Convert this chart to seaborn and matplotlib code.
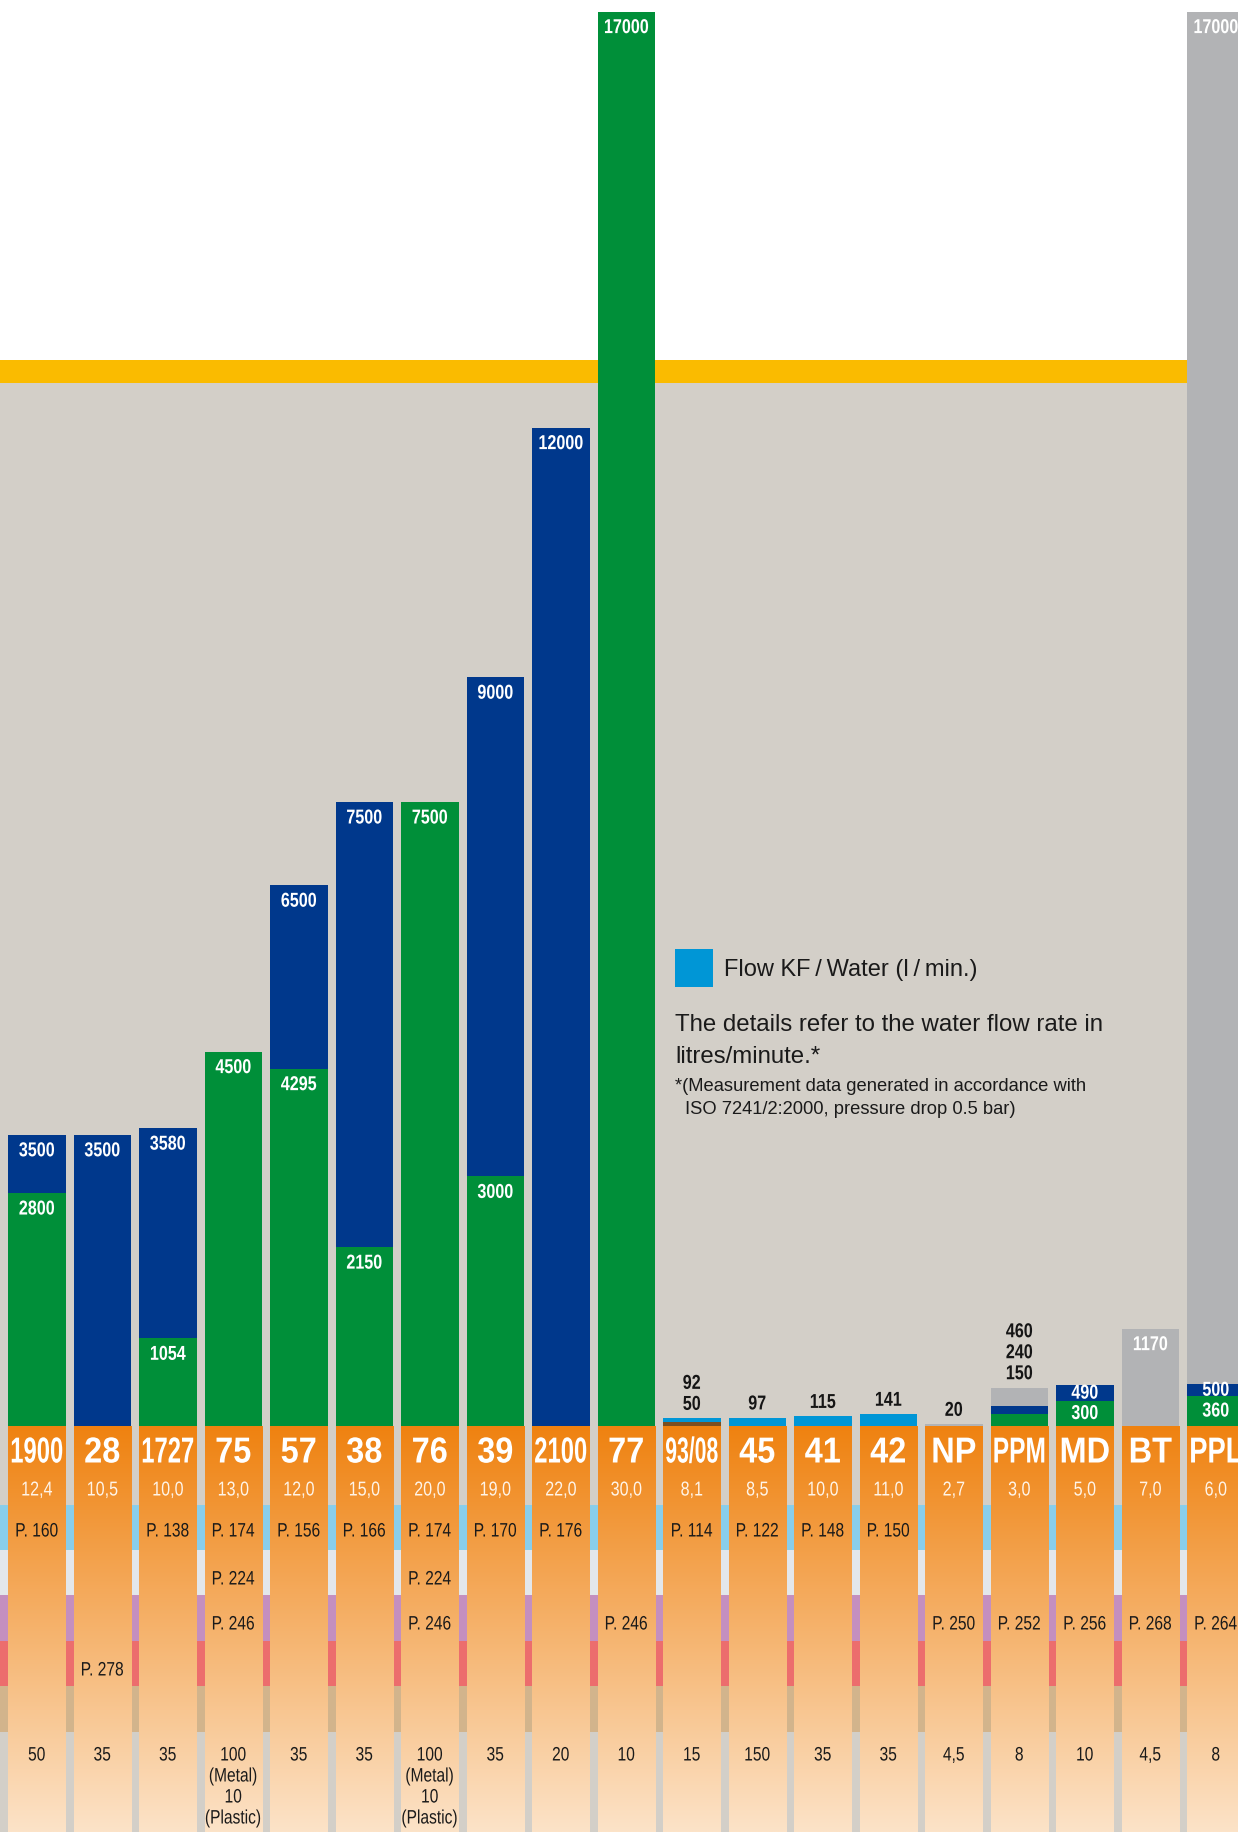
import numpy as np
import pandas as pd
import matplotlib
matplotlib.use("Agg")
import matplotlib.pyplot as plt
from matplotlib.patches import Rectangle
from matplotlib.colors import to_rgb
from matplotlib.patheffects import AbstractPathEffect
from matplotlib.transforms import Affine2D
from matplotlib import font_manager
import seaborn as sns

nan = np.nan

# ---------------------------------------------------------------- data
models = ["1900", "28", "1727", "75", "57", "38", "76", "39", "2100", "77",
          "93/08", "45", "41", "42", "NP", "PPM", "MD", "BT", "PPL"]

flow_gray  = [nan, nan, nan, nan, nan, nan, nan, nan, nan, nan,
              nan, nan, nan, nan, 20, 460, nan, 1170, 17000]
flow_navy  = [3500, 3500, 3580, nan, 6500, 7500, nan, 9000, 12000, nan,
              nan, nan, nan, nan, nan, 240, 490, nan, 500]
flow_sky   = [nan, nan, nan, nan, nan, nan, nan, nan, nan, nan,
              92, 97, 115, 141, nan, nan, nan, nan, nan]
flow_green = [2800, nan, 1054, 4500, 4295, 2150, 7500, 3000, nan, 17000,
              nan, nan, nan, nan, nan, 150, 300, nan, 360]
flow_brown = [nan, nan, nan, nan, nan, nan, nan, nan, nan, nan,
              50, nan, nan, nan, nan, nan, nan, nan, nan]

size_values = ["12,4", "10,5", "10,0", "13,0", "12,0", "15,0", "20,0", "19,0",
               "22,0", "30,0", "8,1", "8,5", "10,0", "11,0", "2,7", "3,0",
               "5,0", "7,0", "6,0"]
pages_a = ["P. 160", "", "P. 138", "P. 174", "P. 156", "P. 166", "P. 174",
           "P. 170", "P. 176", "", "P. 114", "P. 122", "P. 148", "P. 150",
           "", "", "", "", ""]
pages_b = ["", "", "", "P. 224", "", "", "P. 224", "", "", "", "", "", "",
           "", "", "", "", "", ""]
pages_c = ["", "", "", "P. 246", "", "", "P. 246", "", "", "P. 246", "", "",
           "", "", "P. 250", "P. 252", "P. 256", "P. 268", "P. 264"]
pages_d = ["", "P. 278", "", "", "", "", "", "", "", "", "", "", "", "", "",
           "", "", "", ""]
pack_units = ["50", "35", "35", "100\n(Metal)\n10\n(Plastic)", "35", "35",
              "100\n(Metal)\n10\n(Plastic)", "35", "20", "10", "15", "150",
              "35", "35", "4,5", "8", "10", "4,5", "8"]

# columns whose flow figures are printed above the bar
labels_above = ["93/08", "45", "41", "42", "NP", "PPM"]

# ---------------------------------------------------------------- style
series_order = ["gray", "navy", "sky", "green", "brown"]
palette = {"gray": "#B2B3B5", "navy": "#00388C", "sky": "#0096D6",
           "green": "#008F39", "brown": "#7B4F20"}
BEIGE = "#D3CFC8"
YELLOW = "#FABB00"
STRIPES = [(0, 79, BEIGE), (79, 124, "#89CEEB"), (124, 169, "#E3E7EB"),
           (169, 215, "#C48FBF"), (215, 260, "#EC6D6D"), (260, 306, "#D2B48C"),
           (306, 406, BEIGE)]
GRAD_TOP = "#EF8210"
GRAD_BOTTOM = "#FCE3C8"

sns.set_theme(style="white")
SANS = ["Liberation Sans", "DejaVu Sans"]
plt.rcParams["font.family"] = SANS

installed = {f.name for f in font_manager.fontManager.ttflist}
if "Liberation Sans Narrow" in installed:
    NARROW, NARROW_SX = ["Liberation Sans Narrow"] + SANS, 1.0
else:
    NARROW, NARROW_SX = SANS, 0.8


class HSqueeze(AbstractPathEffect):
    """Draw a text's glyphs compressed horizontally about its centre."""

    def __init__(self, text, sx):
        super().__init__()
        self.text = text
        self.sx = sx

    def draw_path(self, renderer, gc, tpath, affine, rgbFace=None):
        bb = self.text.get_window_extent(renderer)
        cx = 0.5 * (bb.x0 + bb.x1)
        squeeze = Affine2D().translate(-cx, 0).scale(self.sx, 1).translate(cx, 0)
        renderer.draw_path(gc, tpath, affine + squeeze, rgbFace)


def narrow(t, sx=None):
    s = NARROW_SX if sx is None else sx
    if s < 0.999:
        t.set_path_effects([HSqueeze(t, s)])
    return t


FIG_W, FIG_H, DPI = 1238, 1833, 100
BASE_PX = 1427            # bar baseline / top of the table strip
PX_PER_UNIT = 0.0832      # vertical scale of the flow bars
PITCH, BAR_PX, FIRST_LEFT = 65.5, 57.5, 8.0
BAR_WIDTH = BAR_PX / PITCH
PT = 72.0 / DPI           # pixels -> points

fig = plt.figure(figsize=(FIG_W / DPI, FIG_H / DPI), dpi=DPI, facecolor="white")
ax = fig.add_axes([0, 1 - BASE_PX / FIG_H, 1, BASE_PX / FIG_H])
tab = fig.add_axes([0, 0, 1, 1 - BASE_PX / FIG_H])

x_lo = -(FIRST_LEFT + BAR_PX / 2) / PITCH
x_hi = x_lo + FIG_W / PITCH
y_top = BASE_PX / PX_PER_UNIT

# ---------------------------------------------------------------- bars
frames = []
for name, vals in zip(series_order,
                      [flow_gray, flow_navy, flow_sky, flow_green, flow_brown]):
    frames.append(pd.DataFrame({"model": models, "flow": vals, "series": name}))
df = pd.concat(frames, ignore_index=True).dropna()

ax.axhspan(0, (BASE_PX - 384) / PX_PER_UNIT, color=BEIGE, zorder=0, lw=0)
ax.axhspan((BASE_PX - 384) / PX_PER_UNIT, (BASE_PX - 361) / PX_PER_UNIT,
           color=YELLOW, zorder=0, lw=0)

sns.barplot(data=df, x="model", y="flow", hue="series", order=models,
            hue_order=series_order, palette=palette, dodge=False,
            width=BAR_WIDTH, errorbar=None, saturation=1, legend=False,
            linewidth=0, ax=ax)
for p in ax.patches:
    p.set_zorder(2)

ax.set_xlim(x_lo, x_hi)
ax.set_ylim(0, y_top)
ax.axis("off")

# value labels
LABEL_PT = 14.5
for i, m in enumerate(models):
    vals = sorted({v for v in (flow_gray[i], flow_navy[i], flow_sky[i],
                               flow_green[i], flow_brown[i]) if not np.isnan(v)},
                  reverse=True)
    if m in labels_above:
        top = vals[0]
        for k, v in enumerate(sorted(vals)):
            narrow(ax.annotate(f"{int(v)}", xy=(i, top),
                               xytext=(0, (14 + 21 * k) * PT),
                               textcoords="offset points", ha="center",
                               va="center", fontsize=LABEL_PT, fontweight="bold",
                               family=NARROW, color="#151515", zorder=5))
    else:
        for k, v in enumerate(vals):
            lower = vals[k + 1] if k + 1 < len(vals) else 0
            visible_px = (v - lower) * PX_PER_UNIT
            off = min(16, visible_px / 2)
            narrow(ax.annotate(f"{int(v)}", xy=(i, v), xytext=(0, -off * PT),
                               textcoords="offset points", ha="center",
                               va="center", fontsize=LABEL_PT, fontweight="bold",
                               family=NARROW, color="white", zorder=5))

# ---------------------------------------------------------------- table strip
tab.axis("off")
for y0, y1, c in STRIPES:
    tab.axhspan(y0, y1, color=c, lw=0, zorder=0)

c0, c1 = np.array(to_rgb(GRAD_TOP)), np.array(to_rgb(GRAD_BOTTOM))
t = np.linspace(0, 1, 256)[:, None]
grad = (c0 * (1 - t) + c1 * t)[:, None, :]
for i in range(len(models)):
    tab.imshow(grad, extent=(i - BAR_WIDTH / 2, i + BAR_WIDTH / 2, 406, 0),
               aspect="auto", interpolation="bilinear", zorder=1)
tab.set_xlim(x_lo, x_hi)
tab.set_ylim(406, 0)

headers = []
for i, m in enumerate(models):
    headers.append(tab.text(i, 27, m, ha="center", va="center", fontsize=26,
                            fontweight="bold", family=NARROW, color="white",
                            zorder=3))
    narrow(tab.text(i, 64, size_values[i], ha="center", va="center",
                    fontsize=14.5, family=NARROW, color="#FFF4E8", zorder=3))
    for y, row in ((106, pages_a), (154, pages_b), (199, pages_c), (245, pages_d)):
        if row[i]:
            narrow(tab.text(i, y, row[i], ha="center", va="center", fontsize=14,
                            family=NARROW, color="#1A1A1A", zorder=3))
    for k, line in enumerate(pack_units[i].split("\n")):
        narrow(tab.text(i, 330 + 21 * k, line, ha="center", va="center",
                        fontsize=14, family=NARROW, color="#1A1A1A", zorder=3))

# compress the model names so that each fits its column
renderer = fig.canvas.get_renderer()
for h in headers:
    w = h.get_window_extent(renderer).width
    sx = min(0.9 if NARROW_SX < 1 else 1.0, 53.0 / w)
    narrow(h, sx)

# ---------------------------------------------------------------- legend / notes
def fx(x):
    return x / FIG_W


def fy(y):
    return 1 - y / FIG_H


fig.add_artist(Rectangle((fx(675), fy(988)), fx(713) - fx(675), fy(950) - fy(988),
                         transform=fig.transFigure, color="#0096D6", lw=0))
fig.text(fx(724), fy(970), "Flow KF\u2009/\u2009Water (l\u2009/\u2009min.)",
         ha="left", va="center", fontsize=17, color="#1A1A1A")
fig.text(fx(675), fy(1025), "The details refer to the water flow rate in",
         ha="left", va="center", fontsize=17.3, color="#1A1A1A")
fig.text(fx(675), fy(1057), "litres/minute.*", ha="left", va="center",
         fontsize=17.3, color="#1A1A1A")
fig.text(fx(675), fy(1087), "*(Measurement data generated in accordance with",
         ha="left", va="center", fontsize=13.2, color="#1A1A1A")
fig.text(fx(685), fy(1110), "ISO 7241/2:2000, pressure drop 0.5 bar)",
         ha="left", va="center", fontsize=13.2, color="#1A1A1A")

fig.savefig("out.png", dpi=DPI, facecolor="white")
